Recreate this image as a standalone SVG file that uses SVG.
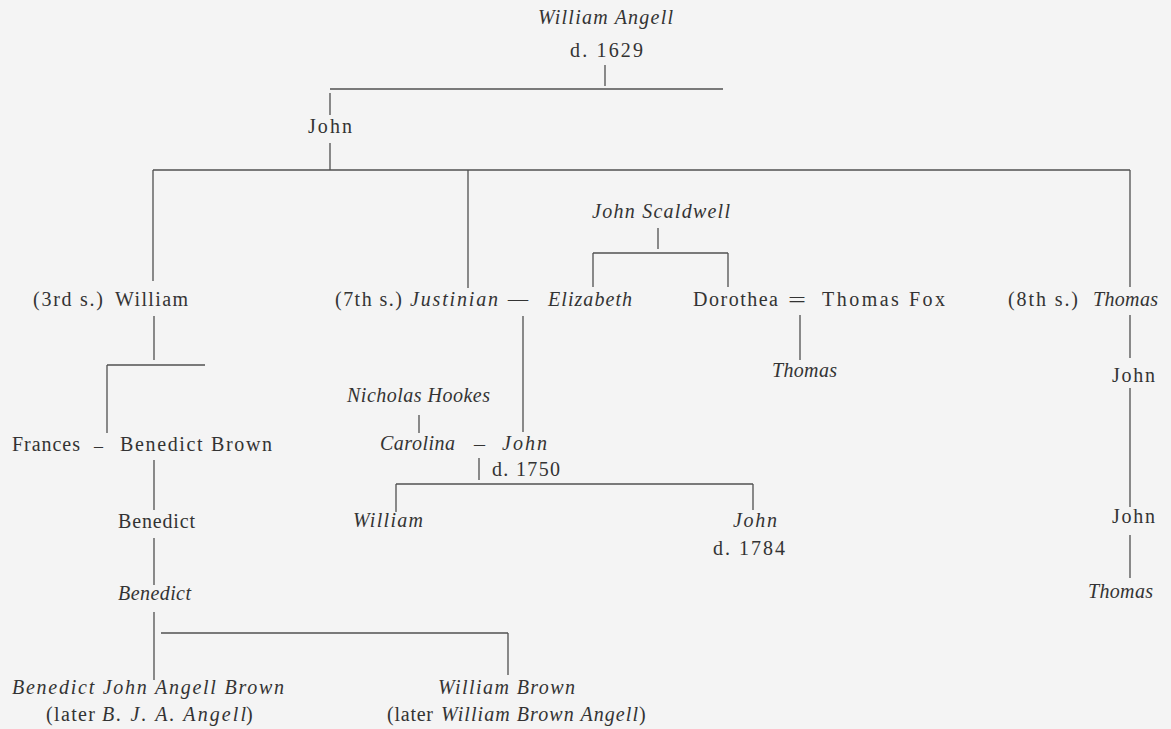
<svg xmlns="http://www.w3.org/2000/svg" width="1171" height="729" viewBox="0 0 1171 729">
  <style>
    text { font-family: "Liberation Serif", "Times New Roman", serif; font-size: 20px; fill: #333; }
    .i { font-style: italic; }
    .lines path { stroke: #505050; stroke-width: 1.3; fill: none; }
  </style>
  <rect width="1171" height="729" fill="#f4f4f4"/>

  <!-- descent lines -->
  <g id="connectors" class="lines">
    <path d="M605 65V86M330 89H723M330 93V115M330 143V170"/>
    <path d="M153 170H1130M153 170V281M468 170V288M1130 170V287"/>
    <path d="M658 228V249M593 253H728M593 253V287M728 253V287"/>
    <path d="M800 315V360"/>
    <path d="M1130 315V358M1130 388V507M1130 535V578"/>
    <path d="M154 316V360M107 365H205M107 365V433"/>
    <path d="M154 460V510M154 538V585M154 612V680M161 633H508M508 633V675"/>
    <path d="M523 316V432M419 415V433M479 458V480"/>
    <path d="M396 484H753M396 484V512M753 484V510"/>
  </g>

  <g id="william-angell">
    <text class="i" x="538" y="24" textLength="135" lengthAdjust="spacing">William Angell</text>
    <text x="570" y="57" textLength="73" lengthAdjust="spacing">d. 1629</text>
  </g>

  <g id="john">
    <text x="308" y="133" textLength="44" lengthAdjust="spacing">John</text>
  </g>

  <g id="william-3rd">
    <text x="33" y="306" textLength="70" lengthAdjust="spacing">(3rd s.)</text>
    <text x="115" y="306" textLength="73" lengthAdjust="spacing">William</text>
  </g>

  <g id="justinian-elizabeth">
    <text x="335" y="306" textLength="67" lengthAdjust="spacing">(7th s.)</text>
    <text class="i" x="410" y="306" textLength="88" lengthAdjust="spacing">Justinian</text>
    <text x="508" y="306" textLength="20" lengthAdjust="spacingAndGlyphs">–</text>
    <text class="i" x="548" y="306" textLength="84" lengthAdjust="spacing">Elizabeth</text>
  </g>

  <g id="john-scaldwell">
    <text class="i" x="592" y="218" textLength="138" lengthAdjust="spacing">John Scaldwell</text>
  </g>

  <g id="dorothea-thomas-fox">
    <text x="693" y="306" textLength="85" lengthAdjust="spacing">Dorothea</text>
    <text x="788" y="307" textLength="18" lengthAdjust="spacingAndGlyphs">=</text>
    <text x="822" y="306" textLength="123" lengthAdjust="spacing">Thomas Fox</text>
  </g>

  <g id="thomas-fox-son">
    <text class="i" x="772" y="377" textLength="65" lengthAdjust="spacing">Thomas</text>
  </g>

  <g id="thomas-8th">
    <text x="1008" y="306" textLength="70" lengthAdjust="spacing">(8th s.)</text>
    <text class="i" x="1093" y="306" textLength="65" lengthAdjust="spacing">Thomas</text>
  </g>

  <g id="john-r1">
    <text x="1112" y="382" textLength="43" lengthAdjust="spacing">John</text>
  </g>
  <g id="john-r2">
    <text x="1112" y="523" textLength="43" lengthAdjust="spacing">John</text>
  </g>
  <g id="thomas-r">
    <text class="i" x="1088" y="598" textLength="65" lengthAdjust="spacing">Thomas</text>
  </g>

  <g id="nicholas-hookes">
    <text class="i" x="347" y="402" textLength="143" lengthAdjust="spacing">Nicholas Hookes</text>
  </g>

  <g id="carolina-john">
    <text class="i" x="380" y="450" textLength="75" lengthAdjust="spacing">Carolina</text>
    <text x="474" y="451" textLength="11" lengthAdjust="spacingAndGlyphs">–</text>
    <text class="i" x="502" y="450" textLength="45" lengthAdjust="spacing">John</text>
    <text x="492" y="476" textLength="68" lengthAdjust="spacing">d. 1750</text>
  </g>

  <g id="william-m">
    <text class="i" x="353" y="527" textLength="70" lengthAdjust="spacing">William</text>
  </g>
  <g id="john-m">
    <text class="i" x="733" y="527" textLength="44" lengthAdjust="spacing">John</text>
    <text x="713" y="555" textLength="72" lengthAdjust="spacing">d. 1784</text>
  </g>

  <g id="frances-benedict-brown">
    <text x="12" y="451" textLength="68" lengthAdjust="spacing">Frances</text>
    <text x="94" y="453" textLength="9" lengthAdjust="spacingAndGlyphs">–</text>
    <text x="120" y="451" textLength="152" lengthAdjust="spacing">Benedict Brown</text>
  </g>

  <g id="benedict-1">
    <text x="118" y="528" textLength="77" lengthAdjust="spacing">Benedict</text>
  </g>
  <g id="benedict-2">
    <text class="i" x="118" y="600" textLength="73" lengthAdjust="spacing">Benedict</text>
  </g>

  <g id="benedict-john-angell-brown">
    <text class="i" x="12" y="694" textLength="272" lengthAdjust="spacing">Benedict John Angell Brown</text>
    <text x="46" y="721" textLength="49" lengthAdjust="spacing">(later</text>
    <text class="i" x="102" y="721" textLength="144" lengthAdjust="spacing">B. J. A. Angell</text>
    <text x="246" y="721">)</text>
  </g>

  <g id="william-brown">
    <text class="i" x="438" y="694" textLength="137" lengthAdjust="spacing">William Brown</text>
    <text x="387" y="721" textLength="46" lengthAdjust="spacing">(later</text>
    <text class="i" x="441" y="721" textLength="197" lengthAdjust="spacing">William Brown Angell</text>
    <text x="639" y="721">)</text>
  </g>
</svg>
